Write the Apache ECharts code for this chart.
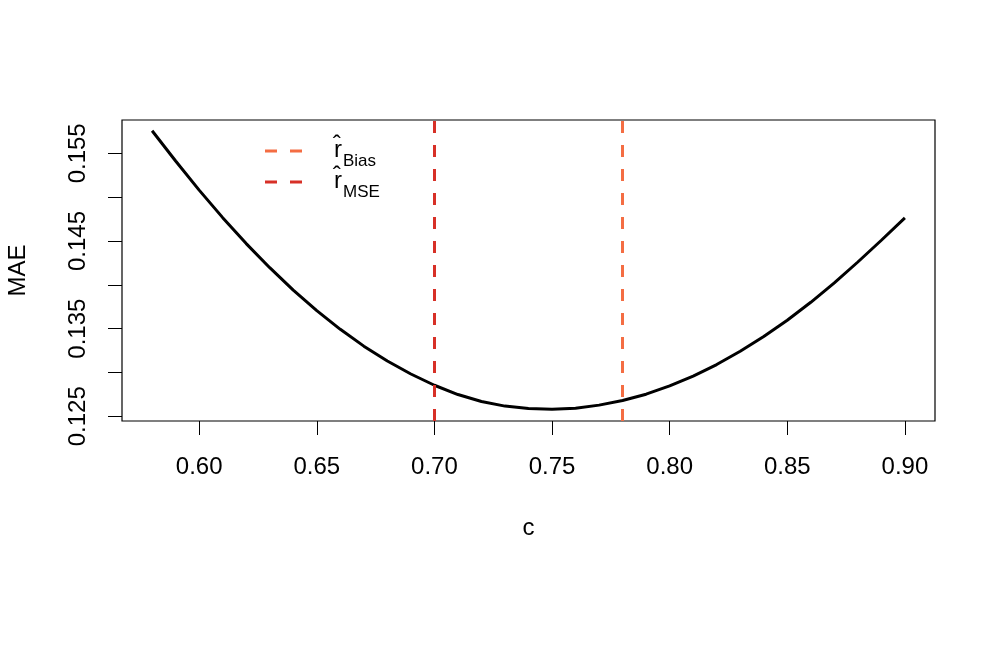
<!DOCTYPE html>
<html>
<head>
<meta charset="utf-8">
<script src="https://cdn.jsdelivr.net/npm/echarts@6/dist/echarts.min.js"></script>
<style>
  html, body { margin: 0; padding: 0; background: #fff; }
  #chart { width: 996px; height: 662px; }
</style>
</head>
<body>
<div id="chart"></div>
<script>
// c values and MAE
const cValues = [0.58, 0.59, 0.60, 0.61, 0.62, 0.63, 0.64, 0.65, 0.66, 0.67, 0.68,
  0.69, 0.70, 0.71, 0.72, 0.73, 0.74, 0.75, 0.76, 0.77, 0.78, 0.79, 0.80,
  0.81, 0.82, 0.83, 0.84, 0.85, 0.86, 0.87, 0.88, 0.89, 0.90]
const maeValues = [0.15757, 0.15412, 0.15080, 0.14766, 0.14470, 0.14195, 0.13940,
  0.13705, 0.13492, 0.13300, 0.13130, 0.12982, 0.12854, 0.12748, 0.12668,
  0.12616, 0.12588, 0.12580, 0.12592, 0.12627, 0.12680, 0.12752, 0.12846,
  0.12958, 0.13090, 0.13242, 0.13410, 0.13596, 0.13800, 0.14022, 0.14260,
  0.14508, 0.14764]

// vertical reference lines
const rBias = 0.78
const rMSE = 0.70

// ticks and labels
const xTicks = [0.60, 0.65, 0.70, 0.75, 0.80, 0.85, 0.90]
const yTicks = [0.125, 0.130, 0.135, 0.140, 0.145, 0.150, 0.155]
const yLabels = [0.125, 0.135, 0.145, 0.155]

const colorBias = '#F46D43'
const colorMSE = '#D73027'
const font = 'Liberation Sans, Arial, Helvetica, sans-serif'
// two dashes, same look as the vertical lines
const dashIcon = 'path://M0,0h12v3h-12zM25,0h12v3h-12z'

const chart = echarts.init(document.getElementById('chart'))

/** dashed vertical line series, also used for the legend entry */
function refLine(name, value, color) {
  return {
    name: name,
    type: 'line',
    data: [],
    symbol: 'none',
    lineStyle: { color: color, width: 3, type: [12, 12] },
    itemStyle: { color: color },
    markLine: {
      silent: true,
      symbol: 'none',
      label: { show: false },
      lineStyle: { color: color, width: 3, type: [12, 12] },
      data: [{ xAxis: value }],
    },
  }
}

const option = {
  animation: false,
  backgroundColor: '#fff',
  textStyle: { fontFamily: font },
  grid: {
    left: 122,
    right: 61,
    top: 120,
    bottom: 241,
    outerBoundsMode: 'none',
    show: true,
    borderColor: '#000',
    borderWidth: 1.2,
  },
  legend: {
    data: [
      { name: 'Bias', icon: dashIcon },
      { name: 'MSE', icon: dashIcon },
    ],
    orient: 'vertical',
    left: 265,
    top: 138,
    padding: 0,
    itemWidth: 37,
    itemHeight: 3,
    itemGap: -1,
    formatter: (name) => '{r|r\u0302}{s|' + name + '}',
    textStyle: {
      padding: [0, 0, 0, 27],
      rich: {
        r: { fontSize: 24, fontFamily: font, color: '#000', lineHeight: 26, verticalAlign: 'top' },
        s: { fontSize: 17, fontFamily: font, color: '#000', lineHeight: 17, padding: [15, 0, 0, 1], verticalAlign: 'top' },
      },
    },
  },
  xAxis: {
    type: 'value',
    min: 0.5672,
    max: 0.9128,
    name: 'c',
    nameLocation: 'middle',
    nameGap: 95,
    nameTextStyle: { fontSize: 24, color: '#000', fontFamily: font },
    axisLine: { show: false },
    splitLine: { show: false },
    axisTick: {
      show: true,
      length: 14,
      lineStyle: { color: '#000', width: 1 },
      customValues: xTicks,
    },
    axisLabel: {
      fontSize: 24,
      color: '#000',
      margin: 34,
      fontFamily: font,
      customValues: xTicks,
      formatter: (v) => v.toFixed(2),
    },
  },
  yAxis: {
    type: 'value',
    min: 0.12446,
    max: 0.15880,
    name: 'MAE',
    nameLocation: 'middle',
    nameGap: 92,
    nameTextStyle: { fontSize: 24, color: '#000', fontFamily: font },
    axisLine: { show: false },
    splitLine: { show: false },
    axisTick: {
      show: true,
      length: 14,
      lineStyle: { color: '#000', width: 1 },
      customValues: yTicks,
    },
    axisLabel: {
      fontSize: 24,
      color: '#000',
      margin: 32,
      rotate: 90,
      fontFamily: font,
      customValues: yLabels,
      formatter: (v) => v.toFixed(3),
    },
  },
  series: [
    {
      name: 'MAE',
      type: 'line',
      data: cValues.map((c, i) => [c, maeValues[i]]),
      symbol: 'none',
      smooth: false,
      lineStyle: { color: '#000', width: 3 },
      z: 3,
    },
    refLine('Bias', rBias, colorBias),
    refLine('MSE', rMSE, colorMSE),
  ],
}

chart.setOption(option)
</script>
</body>
</html>
